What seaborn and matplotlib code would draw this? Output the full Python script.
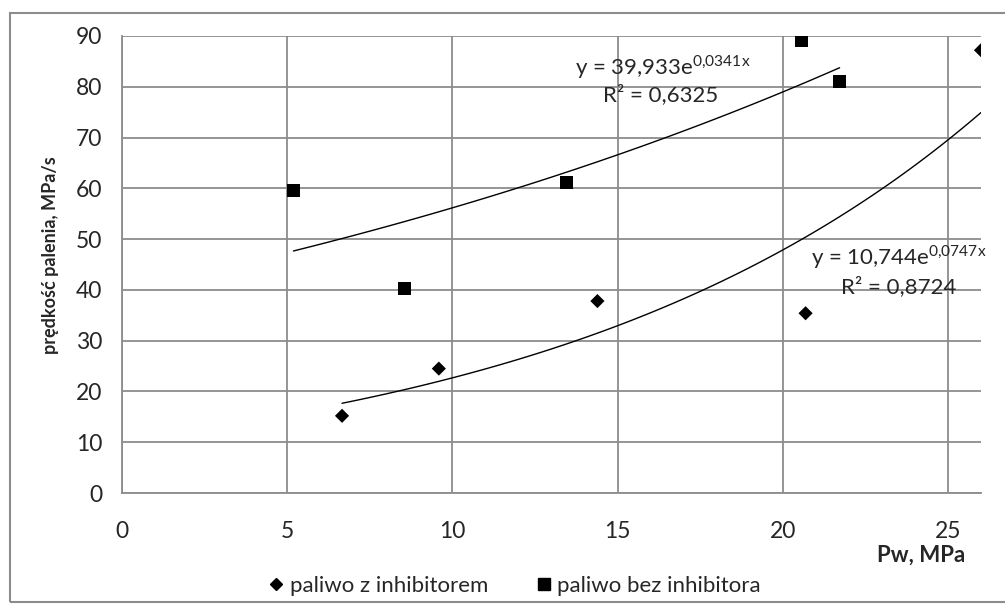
import numpy as np
import pandas as pd
import matplotlib
matplotlib.use("Agg")
import matplotlib.pyplot as plt
from matplotlib.lines import Line2D
from matplotlib.patches import Rectangle
import seaborn as sns

# ---- data ----
x_z_inhib = [6.66, 9.59, 14.39, 20.69, 26.0]
y_z_inhib = [15.2, 24.5, 37.8, 35.4, 87.2]
x_bez_inhib = [5.19, 8.55, 13.46, 20.56, 21.72]
y_bez_inhib = [59.5, 40.2, 61.1, 89.0, 81.1]

series_names = ["paliwo z inhibitorem", "paliwo bez inhibitora"]
# exponential trendline coefficients y = a * exp(b x) as shown on the chart
trend_a = [10.744, 39.933]
trend_b = [0.0747, 0.0341]
eq_texts = ["y = 10,744e$^{\\mathregular{0{,}0747x}}$", "y = 39,933e$^{\\mathregular{0{,}0341x}}$"]
r2_texts = ["R\u00b2 = 0,8724", "R\u00b2 = 0,6325"]

x_ticks = [0, 5, 10, 15, 20, 25]
y_ticks = [0, 10, 20, 30, 40, 50, 60, 70, 80, 90]

sns.set_theme(style="white")
plt.rcParams['font.family'] = ['Lato', 'DejaVu Sans']
plt.rcParams['mathtext.fontset'] = 'custom'
plt.rcParams['mathtext.rm'] = 'Lato'

TXT = "#262626"

fig = plt.figure(figsize=(10.05, 6.09), dpi=100)
ax = fig.add_axes([122/1005, 1-493/609, (981-122)/1005, (493-36)/609])

# outer chart border
fig.patches.append(Rectangle((10/1005, 7/609), 1.2, 1-20/609, transform=fig.transFigure,
                             fill=False, edgecolor="#8c8c8c", linewidth=1.5, zorder=0))

df = pd.DataFrame({
    "x": x_z_inhib + x_bez_inhib,
    "y": y_z_inhib + y_bez_inhib,
    "seria": [series_names[0]] * len(x_z_inhib) + [series_names[1]] * len(x_bez_inhib),
})

sns.scatterplot(data=df[df.seria == series_names[0]], x="x", y="y", marker="D",
                color="black", s=52, edgecolor="none", ax=ax, legend=False, zorder=4)
sns.scatterplot(data=df[df.seria == series_names[1]], x="x", y="y", marker="s",
                color="black", s=85, edgecolor="none", ax=ax, legend=False, zorder=4)

# trendlines
for xs, a, b in [(x_z_inhib, trend_a[0], trend_b[0]), (x_bez_inhib, trend_a[1], trend_b[1])]:
    xx = np.linspace(min(xs), max(xs), 100)
    sns.lineplot(x=xx, y=a * np.exp(b * xx), color="black", linewidth=1.0, ax=ax, zorder=3)

ax.set_xlim(0, 26)
ax.set_ylim(0, 90)
ax.set_xticks(x_ticks)
ax.set_yticks(y_ticks)
ax.grid(True, color="#8c8c8c", linewidth=1.3)
ax.set_axisbelow(True)
for s in ["top", "right"]:
    ax.spines[s].set_visible(False)
for s in ["left", "bottom"]:
    ax.spines[s].set_color("#8c8c8c")
    ax.spines[s].set_linewidth(1.3)
ax.tick_params(axis="both", direction="out", length=8, width=1.3, color="#8c8c8c",
               labelsize=16.5, labelcolor=TXT, pad=6)
ax.tick_params(axis="x", pad=12)

ax.set_xlabel("")
ax.set_ylabel("prędkość palenia, MPa/s", fontsize=13, fontweight="bold", color=TXT)
ax.yaxis.set_label_coords(-(122 - 51) / (981 - 122), (493 - 255) / (493 - 36))
ax.yaxis.label.set_va("center")
fig.text(965/1005, 1-555/609, "Pw, MPa", ha="right", va="center",
         fontsize=16, fontweight="bold", color=TXT)

# equation annotations
ax.text(16.37, 83.9, eq_texts[1], ha="center", va="center", fontsize=16, color=TXT)
ax.text(16.3, 78.4, r2_texts[1], ha="center", va="center", fontsize=16, color=TXT)
ax.text(23.52, 46.5, eq_texts[0], ha="center", va="center", fontsize=16, color=TXT)
ax.text(23.5, 40.6, r2_texts[0], ha="center", va="center", fontsize=16, color=TXT)

handles = [Line2D([], [], linestyle="none", marker="D", color="black", markersize=6),
           Line2D([], [], linestyle="none", marker="s", color="black", markersize=8.5)]
fig.legend(handles, series_names, loc="center", bbox_to_anchor=(513/1005, 1-586/609), ncol=2,
           frameon=False, fontsize=16, handletextpad=0.1, columnspacing=2.0, handlelength=1.0,
           labelcolor=TXT)

fig.savefig("out.png", dpi=100)
